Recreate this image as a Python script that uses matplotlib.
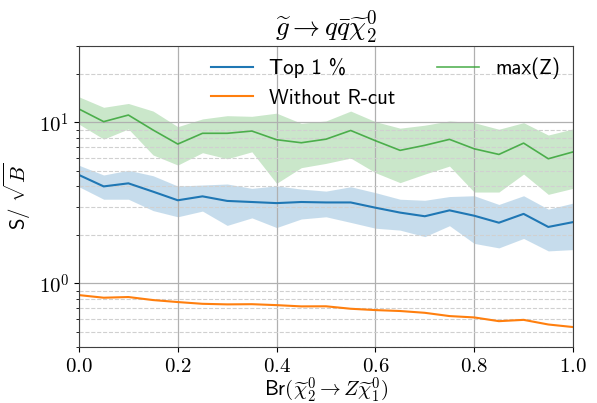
import math

import matplotlib
matplotlib.use("Agg")
import matplotlib.pyplot as plt
from matplotlib.ticker import FuncFormatter, LogLocator, NullFormatter

plt.rcParams["mathtext.fontset"] = "cm"
plt.rcParams["font.family"] = ["cmss10", "DejaVu Sans"]

# branching ratio scan
br = [0.0, 0.05, 0.1, 0.15, 0.2, 0.25, 0.3, 0.35, 0.4, 0.45, 0.5,
      0.55, 0.6, 0.65, 0.7, 0.75, 0.8, 0.85, 0.9, 0.95, 1.0]

top1 = [4.71, 4.0, 4.18, 3.71, 3.28, 3.47, 3.25, 3.2, 3.15, 3.2, 3.18,
        3.18, 2.95, 2.75, 2.61, 2.84, 2.63, 2.38, 2.7, 2.24, 2.4]
top1_hi = [5.41, 4.71, 5.04, 4.66, 4.02, 4.08, 4.14, 3.89, 4.03, 3.85, 3.74,
           3.98, 3.66, 3.33, 3.28, 3.46, 3.5, 3.09, 3.5, 2.89, 3.15]
top1_lo = [3.98, 3.33, 3.33, 2.83, 2.59, 2.81, 2.29, 2.55, 2.22, 2.51, 2.59,
           2.39, 2.2, 2.14, 1.95, 2.28, 1.77, 1.66, 1.9, 1.59, 1.62]

no_rcut = [0.845, 0.814, 0.822, 0.787, 0.765, 0.746, 0.74, 0.742, 0.732, 0.719, 0.72,
           0.695, 0.682, 0.673, 0.656, 0.626, 0.614, 0.582, 0.593, 0.555, 0.535]

maxz = [12.1, 10.1, 11.1, 8.96, 7.33, 8.55, 8.55, 8.83, 7.8, 7.47, 7.86,
        8.9, 7.69, 6.7, 7.2, 7.84, 6.85, 6.32, 7.43, 5.94, 6.55]
maxz_hi = [14.4, 12.4, 13.1, 11.75, 9.4, 10.5, 11.0, 10.9, 11.4, 9.86, 10.2,
           11.75, 10.1, 9.2, 9.6, 10.2, 9.95, 9.06, 9.95, 8.34, 9.1]
maxz_lo = [9.75, 7.87, 9.1, 6.27, 5.43, 6.48, 5.94, 6.56, 4.18, 5.23, 5.56,
           6.0, 4.87, 4.22, 4.77, 5.35, 3.69, 3.69, 4.77, 3.57, 3.89]


fig = plt.figure(figsize=(5.97, 4.03), dpi=100)
ax = fig.add_axes([0.1323, 0.138, 0.8275, 0.749])

ax.plot(br, top1, color="tab:blue", lw=1.5, label="Top 1 %")
ax.fill_between(br, top1_lo, top1_hi, color="tab:blue", alpha=0.25, lw=0)
ax.plot(br, no_rcut, color="tab:orange", lw=1.5, label="Without R-cut")
ax.plot(br, maxz, color="tab:green", lw=1.2, alpha=0.8, label="max(Z)")
ax.fill_between(br, maxz_lo, maxz_hi, color="tab:green", alpha=0.25, lw=0)

ax.set_yscale("log")
ax.set_xlim(0, 1)
ax.set_ylim(0.4, 30)

ax.yaxis.set_major_locator(LogLocator(base=10))
ax.yaxis.set_minor_locator(LogLocator(base=10, subs=range(2, 10)))
ax.yaxis.set_major_formatter(FuncFormatter(lambda v, p: r"$10^{%d}$" % round(math.log10(v))))
ax.yaxis.set_minor_formatter(NullFormatter())
ax.xaxis.set_major_formatter(FuncFormatter(lambda v, p: r"$%.1f$" % v))
ax.tick_params(labelsize=15)

ax.grid(which="major", color="#b0b0b0", lw=0.9)
ax.grid(which="minor", axis="y", color="#d0d0d0", ls="--", lw=0.8)
for s in ax.spines.values():
    s.set_color("#404040")

ax.set_xlabel(r"Br$(\widetilde{\chi}_2^0 \rightarrow Z\widetilde{\chi}_1^0)$", fontsize=15, labelpad=-1)
ax.set_ylabel(r"S/ $\sqrt{B}$", fontsize=15, labelpad=4)
ax.set_title(r"$\widetilde{g} \rightarrow q\bar{q}\widetilde{\chi}_2^0$", fontsize=19.5, pad=6)

ax.legend(loc="upper right", bbox_to_anchor=(1.013, 1.022), ncol=2, frameon=False, fontsize=15)

fig.savefig("out.png", dpi=100)
